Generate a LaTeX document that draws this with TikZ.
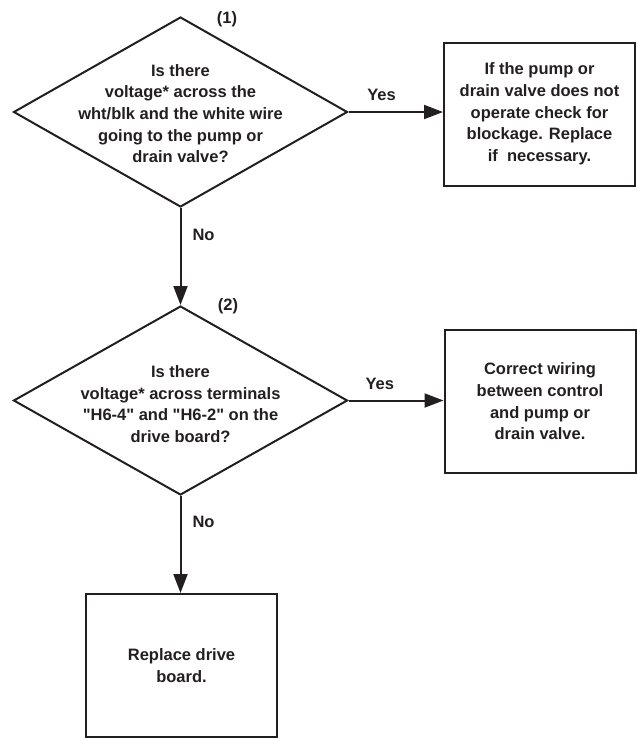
\documentclass[tikz,border=0pt]{standalone}
\usepackage{fontspec}
\setmainfont{Liberation Sans}[Ligatures=TeXOff]
\usetikzlibrary{shapes.geometric,arrows.meta}
\definecolor{ink}{RGB}{35,31,32}

\begin{document}
\begin{tikzpicture}[x=1pt,y=-1pt,>={Triangle[length=19pt,width=14pt]}]
    \tikzstyle{decision} = [diamond,draw=ink,line width=2pt,minimum width=334pt,minimum height=190pt,inner sep=0pt]
    \tikzstyle{box} = [rectangle,draw=ink,line width=2pt,minimum width=191pt,minimum height=143pt,inner sep=0pt,font=\bfseries\fontsize{16.5}{21.7}\selectfont,align=center,text=ink]
    \tikzstyle{txt} = [font=\bfseries\fontsize{16.5}{21.7}\selectfont,align=center,text=ink,inner sep=0pt]
    \tikzstyle{flow} = [->,draw=ink,line width=2pt]
    \useasboundingbox (0,0) rectangle (637,740);
    % first question
    \node[decision] (q1) at (180.5,112) {};
    \node[txt] (q1text) at (180.5,113.5) {Is there\\voltage* across the\\wht/blk and the white wire\\going to the pump or\\drain valve?};
    \node[txt] (n1) at (227,19) {(1)};
    \node[box] (a1) at (539.5,114) {If the pump or\\drain valve does not\\operate check for\\blockage. Replace\\if\ \ necessary.};
    % second question
    \node[decision,minimum height=189pt] (q2) at (180.5,400.5) {};
    \node[txt] (q2text) at (180.5,404) {Is there\\voltage* across terminals\\"H6-4" and "H6-2" on the\\drive board?};
    \node[txt] (n2) at (228,306) {(2)};
    \node[box] (a2) at (540,401.5) {Correct wiring\\between control\\and pump or\\drain valve.};
    % last step
    \node[box] (a3) at (181.5,665.5) {Replace drive\\board.};
    \begin{scope}
      \draw[flow] (q1.east) -- (q1.east -| a1.west) node[txt,pos=0.35,above=10pt] {Yes};
      \draw[flow] (q1.south) -- (q2.north) node[txt,pos=0.28,right=11pt] {No};
      \draw[flow] (q2.east) -- (q2.east -| a2.west) node[txt,pos=0.33,above=10pt] {Yes};
      \draw[flow] (q2.south) -- (q2.south |- a3.north) node[txt,pos=0.27,right=11pt] {No};
    \end{scope}
\end{tikzpicture}
\end{document}
